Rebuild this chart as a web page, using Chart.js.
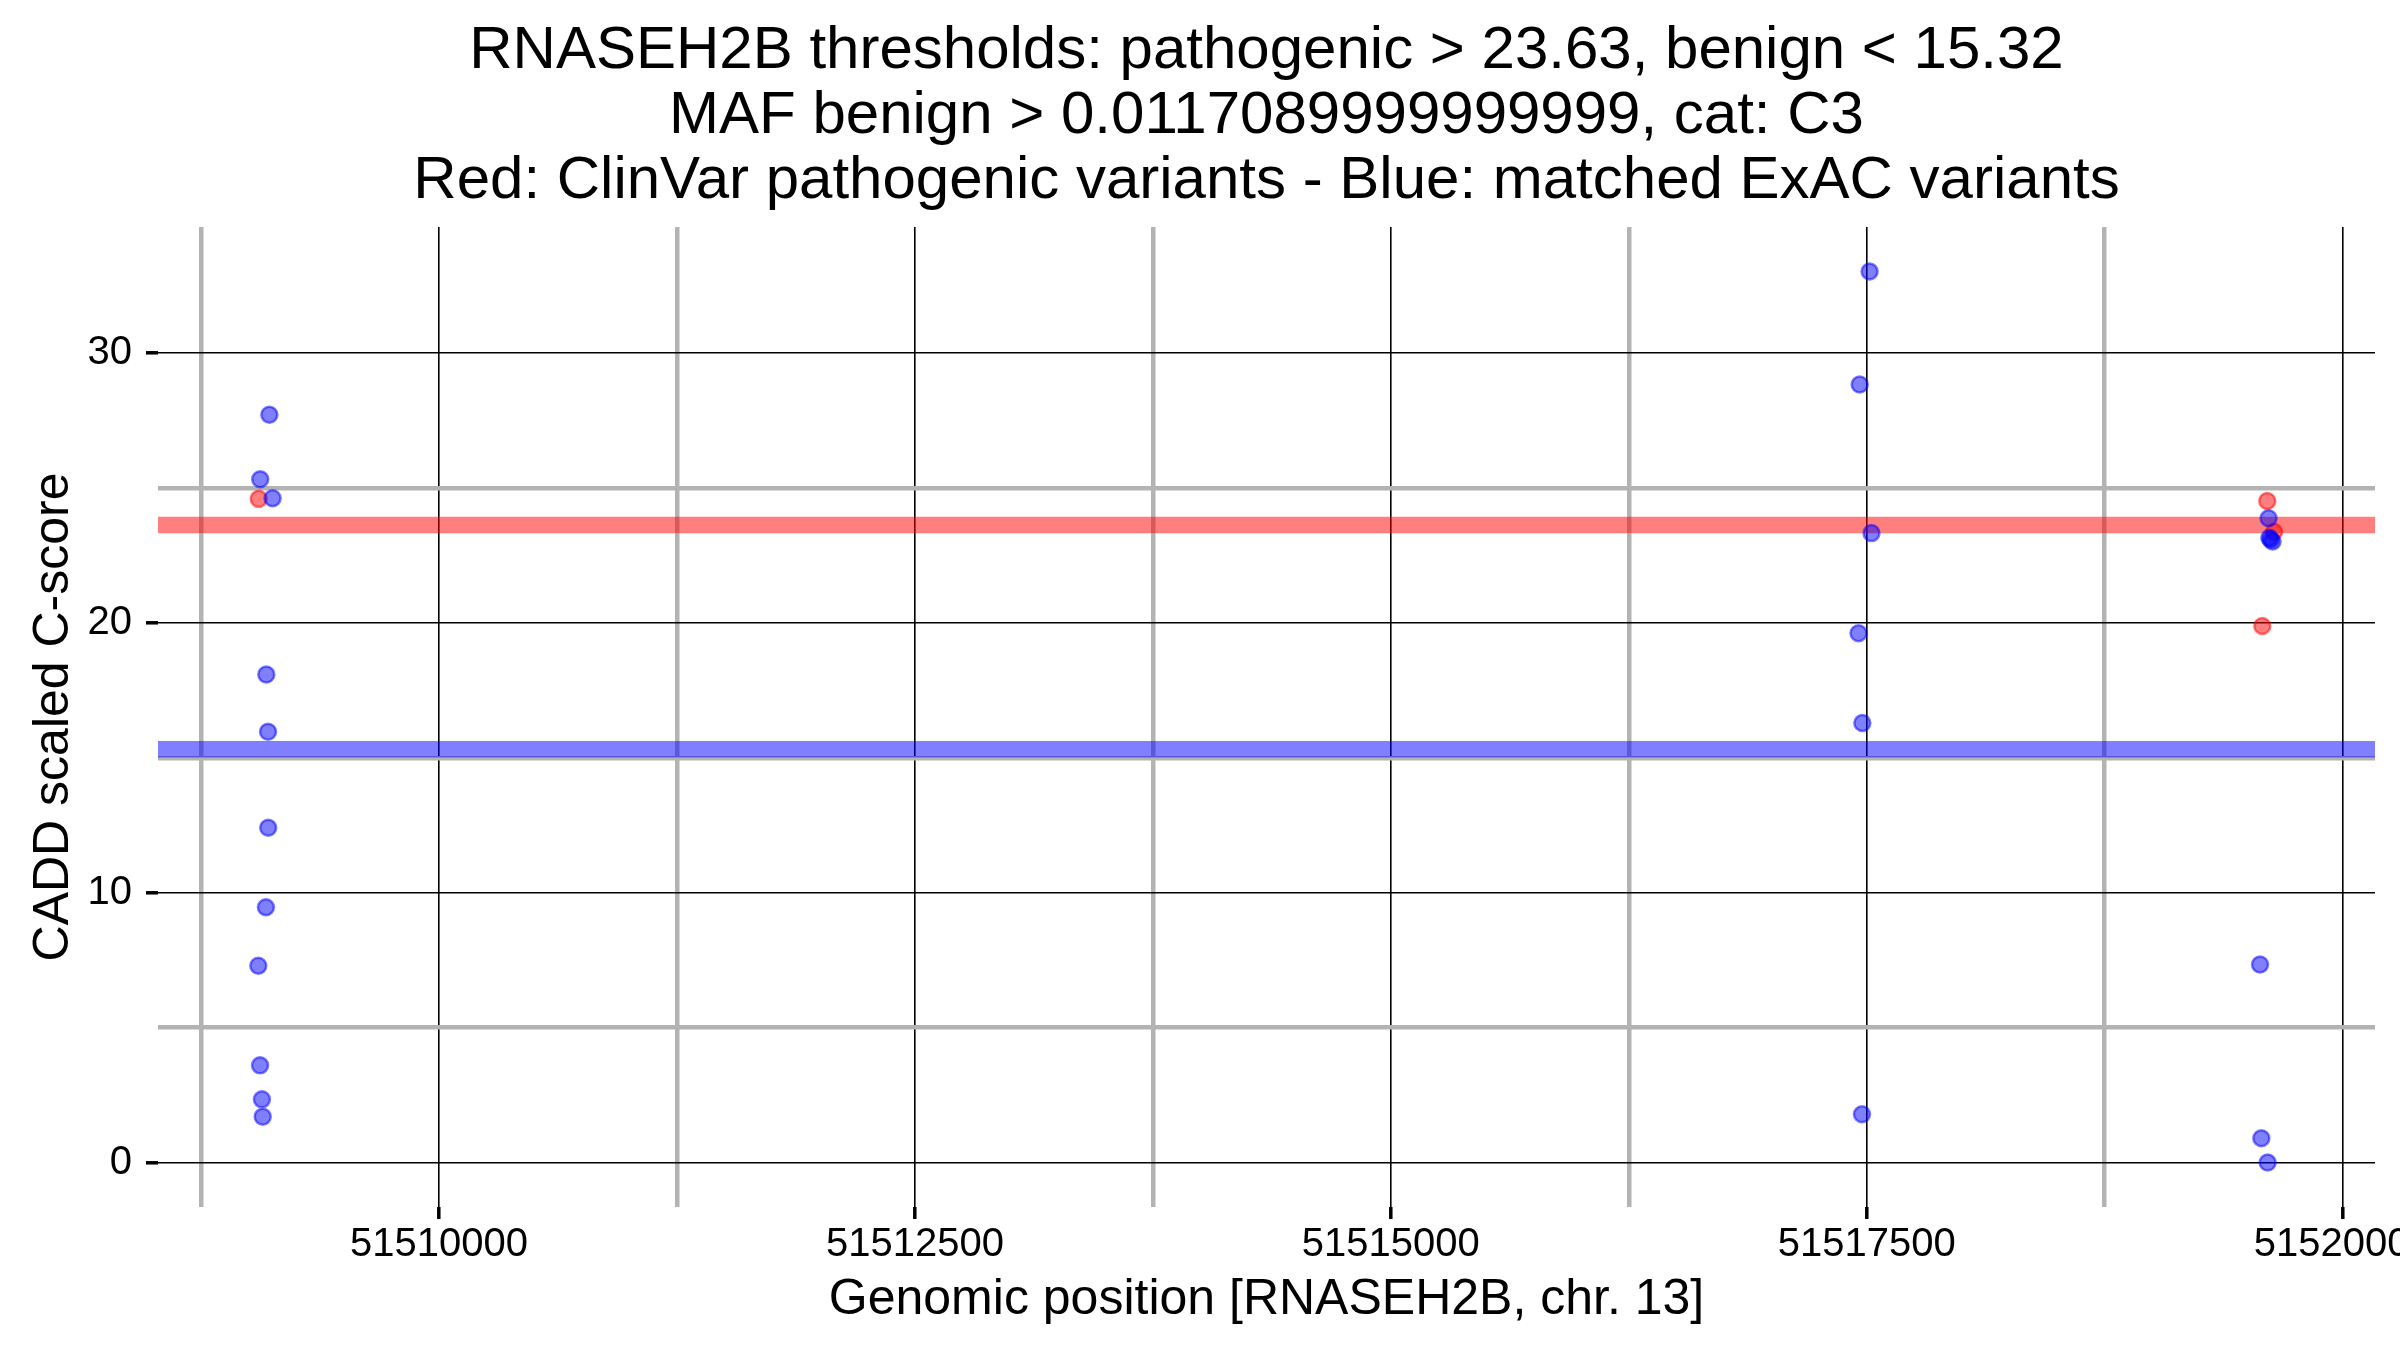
<!DOCTYPE html>
<html>
<head>
<meta charset="utf-8">
<script src="https://cdn.jsdelivr.net/npm/chart.js@4/dist/chart.umd.min.js"></script>
<style>
  html, body { margin: 0; padding: 0; background: #fff; }
</style>
</head>
<body>
<canvas id="chart" width="2400" height="1350"></canvas>
<script>
// ExAC variants (blue)
const exacPos = [51509109, 51509061, 51509126, 51509093, 51509102, 51509103, 51509091, 51509051, 51509060, 51509070, 51509074,
  51517515, 51517463, 51517525, 51517457, 51517477, 51517475,
  51519611, 51519622, 51519632, 51519615, 51519566, 51519573, 51519606];
const exacScore = [27.72, 25.33, 24.62, 18.09, 15.97, 12.41, 9.46, 7.29, 3.60, 2.34, 1.70,
  33.03, 28.84, 23.33, 19.62, 16.29, 1.79,
  23.88, 23.09, 23.02, 23.16, 7.34, 0.90, 0.00];

// ClinVar pathogenic variants (red)
const clinvarPos = [51509053, 51519604, 51519640, 51519578];
const clinvarScore = [24.60, 24.52, 23.38, 19.89];

const pathogenicThreshold = 23.63;
const benignThreshold = 15.32;

const xRange = [51508524, 51520170];
const yRange = [-1.65, 34.68];

const xMajorTicks = [51510000, 51512500, 51515000, 51517500, 51520000];
const xMinorTicks = [51508750, 51511250, 51513750, 51516250, 51518750];
const yMajorTicks = [0, 10, 20, 30];
const yMinorTicks = [5, 15, 25];

const titleLines = [
  "RNASEH2B thresholds: pathogenic > 23.63, benign < 15.32",
  "MAF benign > 0.0117089999999999, cat: C3",
  "Red: ClinVar pathogenic variants - Blue: matched ExAC variants"
];

function toPoints(xs, ys) {
  return xs.map((x, i) => ({x: x, y: ys[i]}));
}

function bandLine(y) {
  return [{x: xRange[0], y: y}, {x: xRange[1], y: y}];
}

function gridOptions(majors) {
  const isMajor = v => majors.includes(v);
  return {
    color: c => isMajor(c.tick.value) ? "#000000" : "#b3b3b3",
    lineWidth: c => isMajor(c.tick.value) ? 1.6 : 4.5,
    tickColor: c => isMajor(c.tick.value) ? "#000000" : "rgba(0,0,0,0)",
    tickWidth: 3.5,
    tickLength: 12
  };
}

Chart.defaults.font.family = '"Liberation Sans", Arial, Helvetica, sans-serif';
Chart.defaults.color = "#000";

new Chart("chart", {
  type: "scatter",
  data: {
    datasets: [
      {
        data: toPoints(exacPos, exacScore),
        backgroundColor: "rgba(0,0,255,0.5)",
        borderColor: "rgba(0,0,255,0.5)",
        borderWidth: 2.5,
        pointRadius: 8
      },
      {
        data: toPoints(clinvarPos, clinvarScore),
        backgroundColor: "rgba(255,0,0,0.5)",
        borderColor: "rgba(255,0,0,0.5)",
        borderWidth: 2.5,
        pointRadius: 8
      },
      {
        data: bandLine(pathogenicThreshold),
        showLine: true,
        borderColor: "rgba(255,0,0,0.5)",
        borderWidth: 16.5,
        pointRadius: 0
      },
      {
        data: bandLine(benignThreshold),
        showLine: true,
        borderColor: "rgba(0,0,255,0.5)",
        borderWidth: 16.5,
        pointRadius: 0
      }
    ]
  },
  options: {
    responsive: false,
    devicePixelRatio: 1,
    animation: false,
    events: [],
    layout: {
      padding: {left: 0, right: 25, top: 0, bottom: 0}
    },
    plugins: {
      legend: {display: false},
      tooltip: {enabled: false},
      title: {
        display: true,
        fullSize: false,
        text: titleLines,
        color: "#000",
        font: {size: 60, weight: "normal", lineHeight: 1.083},
        padding: {top: 19, bottom: 13}
      }
    },
    scales: {
      x: {
        type: "linear",
        min: xRange[0],
        max: xRange[1],
        border: {display: false},
        grid: gridOptions(xMajorTicks),
        afterBuildTicks: axis => {
          axis.ticks = xMinorTicks.concat(xMajorTicks).sort((a, b) => a - b).map(v => ({value: v}));
        },
        afterFit: axis => {
          axis.height = 143;
          axis.paddingLeft = 0;
          axis.paddingRight = 0;
        },
        ticks: {
          autoSkip: false,
          maxRotation: 0,
          padding: 2,
          font: {size: 40},
          callback: v => xMajorTicks.includes(v) ? String(v) : ""
        },
        title: {
          display: true,
          text: "Genomic position [RNASEH2B, chr. 13]",
          font: {size: 50},
          padding: {top: 0, bottom: 20}
        }
      },
      y: {
        type: "linear",
        min: yRange[0],
        max: yRange[1],
        border: {display: false},
        grid: gridOptions(yMajorTicks),
        afterBuildTicks: axis => {
          axis.ticks = yMinorTicks.concat(yMajorTicks).sort((a, b) => a - b).map(v => ({value: v}));
        },
        afterFit: axis => {
          axis.width = 158;
          axis.paddingTop = 0;
          axis.paddingBottom = 0;
        },
        ticks: {
          autoSkip: false,
          padding: 14,
          font: {size: 40},
          callback: v => yMajorTicks.includes(v) ? String(v) : ""
        },
        title: {
          display: true,
          text: "CADD scaled C-score",
          font: {size: 50},
          padding: {top: 24, bottom: 0}
        }
      }
    }
  }
});
</script>
</body>
</html>
